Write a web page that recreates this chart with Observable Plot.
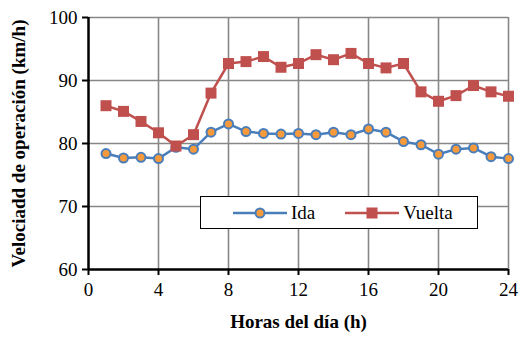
<!DOCTYPE html>
<html><head><meta charset="utf-8">
<script src="https://cdn.jsdelivr.net/npm/d3@7"></script>
<script src="https://cdn.jsdelivr.net/npm/@observablehq/plot@0.6"></script>
<style>
body{margin:0;background:#fff;}
#wrap{position:relative;width:520px;height:337px;font-family:"Liberation Serif","Times New Roman",serif;}
#chart svg, #chart svg text{font-family:"Liberation Serif","Times New Roman",serif !important;}
#legend{position:absolute;left:200px;top:196px;width:278px;height:33px;border:1.5px solid #000;background:#fff;box-sizing:border-box;display:flex;align-items:center;font-size:19px;}
</style></head>
<body><div id="wrap"><div id="chart"></div>
<div id="legend">
<svg width="58" height="20" style="margin-left:30px"><line x1="2" x2="56" y1="10" y2="10" stroke="#4a7ebb" stroke-width="2.5"/><circle cx="29" cy="10" r="4.5" fill="#f79a3c" stroke="#4a7ebb" stroke-width="2"/></svg><span style="margin-left:2px">Ida</span>
<svg width="58" height="20" style="margin-left:28px"><line x1="2" x2="56" y1="10" y2="10" stroke="#c0504d" stroke-width="2.5"/><rect x="23.5" y="4.5" width="11" height="11" fill="#c0504d"/></svg><span style="margin-left:2px">Vuelta</span>
</div></div>
<script>
const hours = [1,2,3,4,5,6,7,8,9,10,11,12,13,14,15,16,17,18,19,20,21,22,23,24];
const ida = [78.4,77.7,77.8,77.6,79.4,79.1,81.8,83.1,81.9,81.6,81.5,81.6,81.4,81.8,81.4,82.3,81.8,80.3,79.8,78.3,79.1,79.3,77.9,77.6];
const vuelta = [86.0,85.1,83.5,81.7,79.6,81.4,88.0,92.7,93.0,93.8,92.1,92.7,94.1,93.3,94.3,92.7,92.0,92.7,88.2,86.7,87.6,89.2,88.2,87.5];
const xTicks = [0,4,8,12,16,20,24];
const yTicks = [60,70,80,90,100];

const idaData = hours.map((h,i)=>({h, v: ida[i]}));
const vueltaData = hours.map((h,i)=>({h, v: vuelta[i]}));
const grid = "#878787";
const serif = '"Liberation Serif","Times New Roman",serif';

const chart = Plot.plot({
  width: 520, height: 337,
  marginLeft: 88, marginRight: 12, marginTop: 17, marginBottom: 68,
  style: {fontFamily: serif, fontSize: "17px", color: "#000", background: "#fff"},
  x: {domain: [0,24], ticks: xTicks, label: null},
  y: {domain: [60,100], ticks: yTicks, label: null},
  marks: [
    Plot.ruleX(xTicks.filter(d=>d>0), {stroke: grid, strokeWidth: 1.6}),
    Plot.ruleY(yTicks.filter(d=>d>60), {stroke: grid, strokeWidth: 1.6}),
    Plot.axisX({ticks: xTicks, tickSize: 6, tickPadding: 7, stroke: "#000", strokeWidth: 2, fontSize: 19, fontFamily: serif, label: null}),
    Plot.axisY({ticks: yTicks, tickSize: 6, tickPadding: 5, stroke: "#000", strokeWidth: 2, fontSize: 19, fontFamily: serif, label: null}),
    Plot.ruleX([0], {stroke: "#000", strokeWidth: 2.5}),
    Plot.ruleY([60], {stroke: "#000", strokeWidth: 2.5}),
    Plot.line(idaData, {x: "h", y: "v", stroke: "#4a7ebb", strokeWidth: 2.5}),
    Plot.line(vueltaData, {x: "h", y: "v", stroke: "#c0504d", strokeWidth: 2.5}),
    Plot.dot(idaData, {x: "h", y: "v", r: 4.5, fill: "#f79a3c", stroke: "#4a7ebb", strokeWidth: 2}),
    Plot.dot(vueltaData, {x: "h", y: "v", symbol: "square", r: 6.2, fill: "#c0504d", stroke: "none"}),
    Plot.text(["Horas del día (h)"], {frameAnchor: "bottom", dy: 58, fontSize: 19, fontWeight: "bold", fontFamily: serif}),
    Plot.text(["Velociadd de operación (km/h)"], {frameAnchor: "left", dx: -70, rotate: -90, textAnchor: "middle", fontSize: 19, fontWeight: "bold", fontFamily: serif})
  ]
});
document.getElementById("chart").appendChild(chart);
</script></body></html>
